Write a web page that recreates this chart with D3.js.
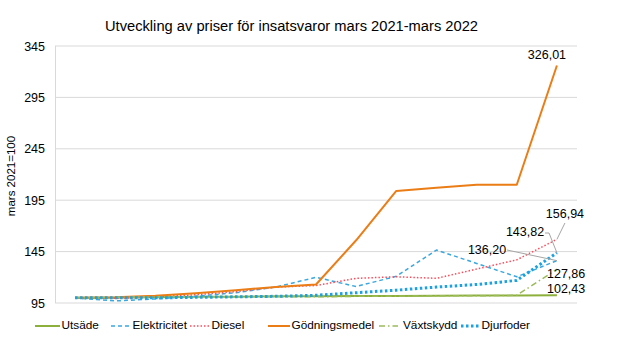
<!DOCTYPE html>
<html><head><meta charset="utf-8">
<script src="https://cdn.jsdelivr.net/npm/d3@7"></script>
<style>body{margin:0;background:#fff}svg{font-family:"Liberation Sans",Arial,sans-serif}</style>
</head><body>
<svg id="c" width="621" height="355"></svg>
<script>
const months = ["2021-03","2021-04","2021-05","2021-06","2021-07","2021-08","2021-09","2021-10","2021-11","2021-12","2022-01","2022-02","2022-03"];
const utsade = [100,100,100.5,101,101,101.5,101.5,101.8,101.9,102,102.2,102.4,102.43];
const elektricitet = [100,97,99,101.5,105,110.5,120,111,121,146.5,133.5,120.5,136.20];
const diesel = [100,99.5,101,103,106,110.5,112,119,120.5,119,128,137,156.94];
const godningsmedel = [100,100.5,102,104.5,107.5,110.5,113,156,204,207,210,210,326.01];
const vaxtskydd = [100,100.5,101,101,101,101,101,101.5,101.5,102,102,102.5,127.86];
const djurfoder = [100,100,100,100.5,101,101.5,102.5,105,107.5,110.5,113,117,143.82];
const yTicks = [95,145,195,245,295,345];
const title = "Utveckling av priser för insatsvaror mars 2021-mars 2022";
const yLabel = "mars 2021=100";

const series = [
  {name:"Utsäde", values:utsade, color:"#8DB03C", width:2, dash:null},
  {name:"Elektricitet", values:elektricitet, color:"#3AA8DF", width:1.5, dash:"4,3"},
  {name:"Diesel", values:diesel, color:"#FF4B5A", width:1.5, dash:"1.5,2"},
  {name:"Gödningsmedel", values:godningsmedel, color:"#EB7D16", width:2, dash:null},
  {name:"Växtskydd", values:vaxtskydd, color:"#9BBB59", width:1.5, dash:"6,3,1.5,3"},
  {name:"Djurfoder", values:djurfoder, color:"#1BA1E2", width:3, dash:"2.5,2.5"}
];

const svg = d3.select("#c");
const x = d3.scalePoint().domain(months).range([55,577]).padding(0.5);
const y = d3.scaleLinear().domain([95,345]).range([303,46]);

svg.append("text").attr("x",291.5).attr("y",31).attr("text-anchor","middle")
  .attr("font-size",14.7).attr("fill","#000").text(title);

// grid
svg.append("g").selectAll("line").data(yTicks).join("line")
  .attr("x1",55).attr("x2",577).attr("y1",d=>y(d)).attr("y2",d=>y(d))
  .attr("stroke","#D9D9D9").attr("stroke-width",1);
svg.append("line").attr("x1",55.5).attr("x2",55.5).attr("y1",y(345)).attr("y2",y(95))
  .attr("stroke","#D9D9D9");

const ax = svg.append("g").attr("transform","translate(55,0)")
  .call(d3.axisLeft(y).tickValues(yTicks).tickSize(0).tickPadding(10).tickFormat(d3.format("d")));
ax.select(".domain").remove();
ax.selectAll("text").attr("font-size",12.5).attr("fill","#000").attr("font-family","Liberation Sans, Arial, sans-serif");

svg.append("text").attr("transform","translate(15,176) rotate(-90)").attr("text-anchor","middle")
  .attr("font-size",11.5).attr("fill","#000").text(yLabel);

const line = d3.line().x((d,i)=>x(months[i])).y(d=>y(d));
svg.append("g").selectAll("path").data(series).join("path")
  .attr("d",d=>line(d.values)).attr("fill","none")
  .attr("stroke",d=>d.color).attr("stroke-width",d=>d.width)
  .attr("stroke-dasharray",d=>d.dash).attr("stroke-linejoin","round");

// data labels
const last = months[months.length-1];
const lx = x(last);
const fmt = v => v.toFixed(2).replace(".",",");
const lab = svg.append("g").attr("font-size",12.5).attr("fill","#000");
function label(v, tx, ty, anchor, leader){
  lab.append("text").attr("x",tx).attr("y",ty).attr("text-anchor",anchor).attr("dominant-baseline","middle").text(fmt(v));
  if(leader){
    svg.append("path").attr("d",d3.line()(leader.concat([[lx,y(v)]]))).attr("fill","none").attr("stroke","#A6A6A6").attr("stroke-width",1);
  }
}
label(godningsmedel[12], lx-10, 56, "middle", null);
label(diesel[12], lx+8, 215, "middle", [[lx+8,223]]);
label(djurfoder[12], 525, 233, "middle", [[545,233],[549,233]]);
label(elektricitet[12], 487, 251, "middle", [[507,250]]);
label(vaxtskydd[12], 547, 275, "start", null);
label(utsade[12], 547, 289.5, "start", null);

// legend
const leg = [
  {x:35,w:25}, {x:111,w:20}, {x:190,w:20}, {x:268,w:22}, {x:379,w:19}, {x:461,w:19}
];
const lg = svg.append("g");
series.forEach((s,i)=>{
  const p = leg[i];
  lg.append("line").attr("x1",p.x).attr("x2",p.x+p.w).attr("y1",326).attr("y2",326)
    .attr("stroke",s.color).attr("stroke-width",s.width).attr("stroke-dasharray",s.dash);
  lg.append("text").attr("x",p.x+p.w+ (i===4?5:1.5)).attr("y",326).attr("dominant-baseline","middle")
    .attr("font-size",11.8).attr("fill","#000").text(s.name);
});
</script>
</body></html>
